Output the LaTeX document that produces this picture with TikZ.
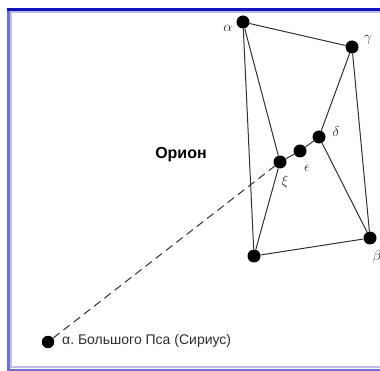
\documentclass[tikz,border=0pt]{standalone}
\usepackage{fontspec}
\setmainfont{Liberation Serif}
\newfontfamily\lsans{Liberation Sans}
\definecolor{edgegray}{RGB}{50,50,50}
\definecolor{framedark}{RGB}{20,20,190}
\definecolor{framemid}{RGB}{110,110,215}
\definecolor{framelight}{RGB}{190,190,240}
\definecolor{textgray}{RGB}{45,45,45}
\begin{document}
\begin{tikzpicture}[x=1pt,y=-1pt,
  star/.style={circle,fill=black,inner sep=0pt,minimum size=13pt},
  edge/.style={draw=edgegray,line width=1pt},
  lbl/.style={font=\itshape\fontsize{14}{14}\selectfont,text=textgray,inner sep=0pt}]
\useasboundingbox (0,0) rectangle (380,371);
\fill[white] (0,0) rectangle (380,371);
% frame
\draw[framelight,line width=2pt] (390,12.5) -- (11,12.5) -- (11,367) -- (390,367);
\draw[framemid,line width=3pt] (8,10) -- (8,370) -- (390,370);
\draw[framedark,line width=2.5pt] (6.5,9.5) -- (390,9.5);
% stars
\node[star] (a) at (243,22) {};
\node[star] (g) at (352,47) {};
\node[star] (d) at (319,137) {};
\node[star] (e) at (300,151) {};
\node[star] (z) at (280,162) {};
\node[star] (k) at (254,256) {};
\node[star] (b) at (370,238) {};
\node[star,minimum size=12.5pt] (s) at (48,342) {};
% edges
\draw[edge] (a) -- (g);
\draw[edge] (a) -- (k);
\draw[edge] (a) -- (z);
\draw[edge] (g) -- (d);
\draw[edge] (g) -- (b);
\draw[edge] (z) -- (e);
\draw[edge] (e) -- (d);
\draw[edge] (d) -- (b);
\draw[edge] (z) -- (k);
\draw[edge] (k) -- (b);
\draw[edge,dash pattern=on 8pt off 5pt] (s) -- (z);
% labels
\node[lbl] (la) at (228,28) {$\alpha$};
\node[lbl] (lg) at (368,40) {$\gamma$};
\node[lbl] (ld) at (336,132) {$\delta$};
\node[lbl] (le) at (307,168) {$\epsilon$};
\node[lbl] (lz) at (285,182) {$\xi$};
\node[lbl] (lb) at (377,257) {$\beta$};
\node[font=\lsans\bfseries\fontsize{16}{16}\selectfont,inner sep=0pt] (or) at (181,155) {Орион};
\node[font=\lsans\fontsize{14}{14}\selectfont,text=textgray,anchor=west,inner sep=0pt] (sl) at (62,341) {α.\ Большого Пса (Сириус)};
\end{tikzpicture}
\end{document}
